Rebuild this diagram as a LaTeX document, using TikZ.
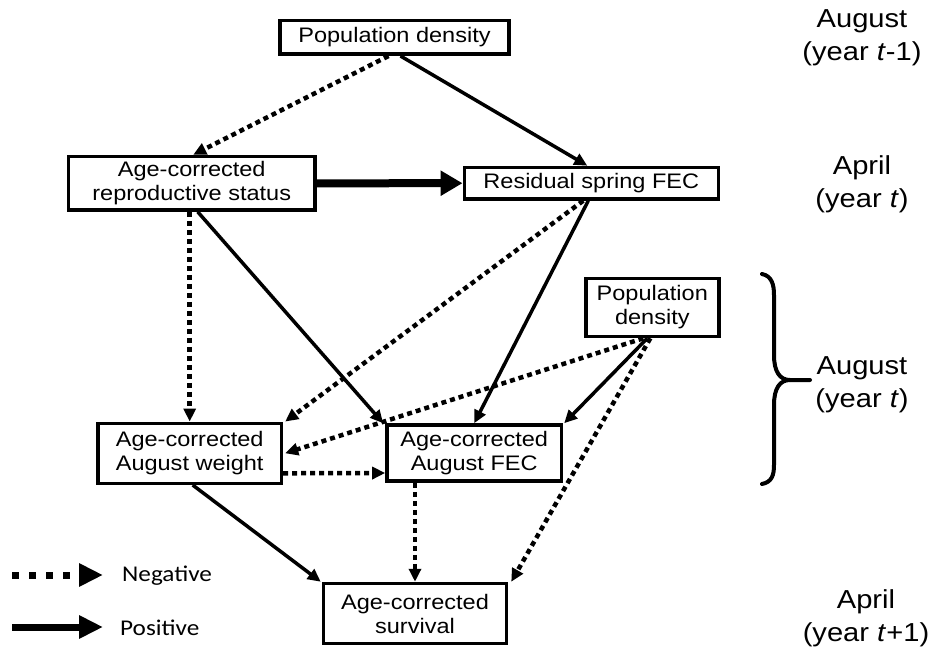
\documentclass[tikz,border=0pt]{standalone}
\usepackage{fontspec}
\setmainfont[FakeStretch=1.12]{Liberation Sans}
\newfontfamily\legfont[FakeStretch=1.12]{Carlito}
\usetikzlibrary{arrows.meta}
\begin{document}
\begin{tikzpicture}[x=1pt,y=-1pt,
  box/.style={draw, line width=3.5pt, inner sep=0pt, align=center, fill=white, font=\fontsize{21}{24}\selectfont},
  lab/.style={align=center, font=\fontsize{26}{33}\selectfont, inner sep=0pt},
  posarr/.style={line width=3.5pt, -{Triangle[length=13pt,width=12pt]}},
  negarr/.style={line width=4.5pt, dash pattern=on 5pt off 4pt, -{Triangle[length=13pt,width=12pt]}},
  legtxt/.style={anchor=west, inner sep=0pt, font=\legfont\fontsize{22.5}{26}\selectfont},
]
\useasboundingbox (0,0) rectangle (930,650);
% boxes
\node[box, minimum width=229pt, minimum height=33.5pt] (pop1) at (394.5,37.5) {Population density};
\node[box, minimum width=246.5pt, minimum height=53.5pt] (repro) at (191.7,183.3) {Age-corrected\\reproductive status};
\node[box, minimum width=254pt, minimum height=31.5pt] (resid) at (591.3,183.2) {Residual spring FEC};
\node[box, minimum width=133pt, minimum height=58pt] (pop2) at (652.3,307.5) {Population\\density};
\node[box, minimum width=183.5pt, minimum height=60pt] (weight) at (189.7,453.3) {Age-corrected\\August weight};
\node[box, minimum width=174.5pt, minimum height=56pt] (fec) at (474.2,453) {Age-corrected\\August FEC};
\node[box, minimum width=183pt, minimum height=60pt] (surv) at (415,613.5) {Age-corrected\\survival};
% connectors
\draw[negarr] ([xshift=-6pt]pop1.south) -- ([xshift=1.5pt]repro.north);
\draw[posarr] ([xshift=6pt]pop1.south) -- ([xshift=-4pt]resid.north);
\draw[line width=8pt, -{Triangle[length=22pt,width=24pt]}] (repro.east) -- (resid.west);
\draw[negarr] (repro.south -| weight.north) -- (weight.north);
\draw[posarr] ([xshift=6pt]repro.south) -- ([xshift=-2pt]fec.north west);
\draw[negarr] ([xshift=-8pt]resid.south) -- ([xshift=2pt]weight.north east);
\draw[posarr] ([xshift=-3pt]resid.south) -- (fec.north);
\draw[negarr] ([xshift=-9pt]pop2.south) -- ([xshift=2pt]weight.east);
\draw[posarr] ([xshift=-5pt]pop2.south) -- ([xshift=1pt]fec.north east);
\draw[negarr] ([xshift=-2pt]pop2.south) -- ([xshift=3pt]surv.north east);
\draw[negarr] ([yshift=-20pt]weight.east) -- ([yshift=-20pt]fec.west);
\draw[posarr] ([xshift=3pt]weight.south) -- ([xshift=-1pt]surv.north west);
\draw[negarr] (fec.south -| surv.north) -- (surv.north);
% right labels
\node[lab] (l1) at (862,38) {August\\(year \textit{t}-1)};
\node[lab] (l2) at (862,184) {April\\(year \textit{t})};
\node[lab] (l3) at (862,385) {August\\(year \textit{t})};
\node[lab] (l4) at (866,618) {April\\(year \textit{t}+1)};
% brace
\draw[line width=4pt, line cap=round] (762,274) .. controls (772,276) and (774,285) .. (774,295) -- (774,355) .. controls (774,372) and (780,380) .. (790,380) -- (810,380);
\draw[line width=4pt, line cap=round] (790,380) .. controls (780,380) and (774,388) .. (774,405) -- (774,465) .. controls (774,475) and (772,482) .. (762,484);
% legend
\coordinate (n1) at (12,575);
\coordinate (n2) at (103,575);
\coordinate (p1) at (12,627);
\coordinate (p2) at (103,627);
\draw[line width=7pt, dash pattern=on 7pt off 10pt, -{Triangle[length=24pt,width=22pt]}] (n1) -- (n2);
\draw[line width=7pt, -{Triangle[length=24pt,width=22pt]}] (p1) -- (p2);
\node[legtxt] (negl) at (122,576) {Negative};
\node[legtxt] (posl) at (120,628) {Positive};
\end{tikzpicture}
\end{document}
